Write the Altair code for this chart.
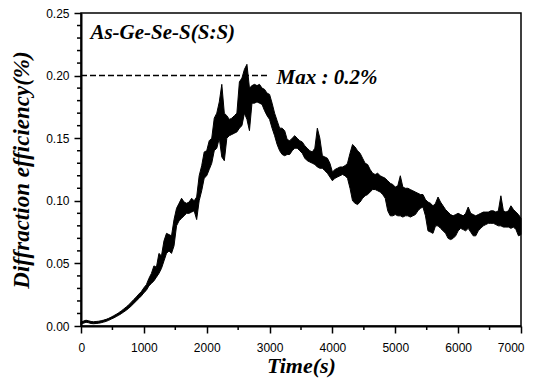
import altair as alt
import pandas as pd

# Noisy diffraction-efficiency trace (%), read from the picture as an upper / lower
# envelope sampled every 40 s from 0 s to 7000 s
step_s = 40
upper = [
    0.0030, 0.0040, 0.0046, 0.0042, 0.0036, 0.0034, 0.0036, 0.0038, 0.0042, 0.0047,
    0.0053, 0.0061, 0.0071, 0.0082, 0.0093, 0.0106, 0.0120, 0.0136, 0.0152, 0.0170,
    0.0190, 0.0212, 0.0232, 0.0255, 0.0275, 0.0305, 0.0330, 0.0380, 0.0420, 0.0480,
    0.0470, 0.0580, 0.0560, 0.0680, 0.0740, 0.0730, 0.0720, 0.0850, 0.0940, 0.0980,
    0.1020, 0.0990, 0.0980, 0.0990, 0.1020, 0.1000, 0.1030, 0.1200, 0.1280, 0.1390,
    0.1400, 0.1480, 0.1500, 0.1660, 0.1700, 0.1790, 0.1930, 0.1700, 0.1680, 0.1650,
    0.1660, 0.1680, 0.1700, 0.1950, 0.1980, 0.2050, 0.2090, 0.1900, 0.1920, 0.1930,
    0.1920, 0.1930, 0.1900, 0.1890, 0.1860, 0.1850, 0.1780, 0.1700, 0.1640, 0.1580,
    0.1580, 0.1560, 0.1490, 0.1480, 0.1500, 0.1520, 0.1500, 0.1480, 0.1470, 0.1440,
    0.1420, 0.1400, 0.1390, 0.1420, 0.1580, 0.1500, 0.1360, 0.1350, 0.1340, 0.1300,
    0.1230, 0.1250, 0.1260, 0.1270, 0.1270, 0.1280, 0.1300, 0.1380, 0.1450, 0.1430,
    0.1400, 0.1380, 0.1340, 0.1300, 0.1290, 0.1250, 0.1220, 0.1210, 0.1220, 0.1200,
    0.1190, 0.1180, 0.1160, 0.1140, 0.1130, 0.1110, 0.1120, 0.1200, 0.1110, 0.1100,
    0.1100, 0.1090, 0.1080, 0.1070, 0.1060, 0.1050, 0.1050, 0.1010, 0.0990, 0.0980,
    0.0960, 0.0980, 0.1030, 0.0990, 0.0960, 0.0930, 0.0910, 0.0890, 0.0880, 0.0890,
    0.0900, 0.0890, 0.0880, 0.0900, 0.0950, 0.0900, 0.0890, 0.0880, 0.0890, 0.0900,
    0.0910, 0.0910, 0.0910, 0.0920, 0.0920, 0.0910, 0.0920, 0.1040, 0.0920, 0.0910,
    0.0920, 0.0960, 0.0930, 0.0910, 0.0890, 0.0860,
]
lower = [
    0.0012, 0.0022, 0.0030, 0.0026, 0.0020, 0.0018, 0.0020, 0.0022, 0.0026, 0.0031,
    0.0037, 0.0045, 0.0055, 0.0064, 0.0075, 0.0086, 0.0098, 0.0112, 0.0126, 0.0142,
    0.0160, 0.0180, 0.0200, 0.0220, 0.0240, 0.0265, 0.0285, 0.0320, 0.0340, 0.0360,
    0.0390, 0.0420, 0.0460, 0.0520, 0.0580, 0.0600, 0.0580, 0.0640, 0.0800, 0.0840,
    0.0860, 0.0880, 0.0900, 0.0900, 0.0910, 0.0920, 0.0850, 0.1000, 0.1080, 0.1180,
    0.1200, 0.1250, 0.1300, 0.1400, 0.1420, 0.1500, 0.1350, 0.1320, 0.1500, 0.1520,
    0.1530, 0.1540, 0.1550, 0.1580, 0.1600, 0.1700, 0.1650, 0.1560, 0.1780, 0.1780,
    0.1790, 0.1780, 0.1770, 0.1720, 0.1680, 0.1650, 0.1580, 0.1520, 0.1450, 0.1400,
    0.1370, 0.1360, 0.1370, 0.1370, 0.1400, 0.1420, 0.1420, 0.1400, 0.1380, 0.1340,
    0.1320, 0.1310, 0.1300, 0.1290, 0.1270, 0.1260, 0.1260, 0.1240, 0.1220, 0.1190,
    0.1160, 0.1180, 0.1190, 0.1200, 0.1210, 0.1200, 0.1180, 0.1100, 0.1000, 0.0980,
    0.0970, 0.0990, 0.1020, 0.1040, 0.1050, 0.1070, 0.1090, 0.1090, 0.1080, 0.1070,
    0.1050, 0.1020, 0.0920, 0.0880, 0.0880, 0.0890, 0.0880, 0.0880, 0.0870, 0.0880,
    0.0880, 0.0870, 0.0880, 0.0890, 0.0920, 0.0940, 0.0950, 0.0880, 0.0760, 0.0750,
    0.0740, 0.0800, 0.0800, 0.0780, 0.0760, 0.0740, 0.0700, 0.0690, 0.0700, 0.0720,
    0.0760, 0.0780, 0.0770, 0.0760, 0.0780, 0.0750, 0.0720, 0.0720, 0.0760, 0.0780,
    0.0800, 0.0810, 0.0820, 0.0820, 0.0820, 0.0810, 0.0800, 0.0800, 0.0790, 0.0790,
    0.0790, 0.0780, 0.0790, 0.0770, 0.0720, 0.0730,
]
times = [i * step_s for i in range(len(upper))]

x_major = [0, 1000, 2000, 3000, 4000, 5000, 6000, 7000]
x_minor = [500, 1500, 2500, 3500, 4500, 5500, 6500]
y_major = [0.00, 0.05, 0.10, 0.15, 0.20, 0.25]
y_minor = [0.01, 0.02, 0.03, 0.04, 0.06, 0.07, 0.08, 0.09, 0.11, 0.12, 0.13, 0.14,
           0.16, 0.17, 0.18, 0.19, 0.21, 0.22, 0.23, 0.24]

max_value = 0.2
max_line_end = 3000
sample_label = "As-Ge-Se-S(S:S)"
max_label = "Max : 0.2%"
label_t = [150, 3110]
label_v = [0.229, 0.1935]

df = pd.DataFrame({"t": times, "hi": upper, "lo": lower})
rule_df = pd.DataFrame({"t": [0], "t2": [max_line_end], "v": [max_value]})
text_df = pd.DataFrame({"t": label_t, "v": label_v, "label": [sample_label, max_label]})
xminor_df = pd.DataFrame({"t": x_minor})
yminor_df = pd.DataFrame({"v": y_minor})

serif = "Liberation Serif"
sans = "Liberation Sans"
W, H = 440, 313

x_scale = alt.Scale(domain=[0, 7000], nice=False, zero=False)
y_scale = alt.Scale(domain=[0, 0.25], nice=False)

common_axis = dict(
    labelFont=sans, labelFontSize=12, labelColor="black",
    titleFont=serif, titleFontStyle="italic", titleFontWeight="bold", titleColor="black",
    domainColor="black", domainWidth=2, tickColor="black", tickWidth=1.5, tickSize=7,
    grid=False, labelOverlap=False,
)
x_axis = alt.Axis(title="Time(s)", values=x_major, format="d", labelPadding=9,
                  labelFlush=True, labelFlushOffset=3,
                  titleFontSize=22, titlePadding=2, **common_axis)
y_axis = alt.Axis(title="Diffraction efficiency(%)", values=y_major, format=".2f",
                  labelPadding=5, labelFlush=False,
                  titleFontSize=23, titlePadding=12, **common_axis)

band = alt.Chart(df).mark_area(
    fill="black", stroke="black", strokeWidth=1, strokeJoin="miter"
).encode(
    x=alt.X("t:Q", scale=x_scale, axis=x_axis),
    y=alt.Y("hi:Q", scale=y_scale, axis=y_axis),
    y2="lo:Q",
)

rule = alt.Chart(rule_df).mark_rule(color="black", strokeWidth=1.5, strokeDash=[6, 3]).encode(
    x="t:Q", x2="t2:Q", y="v:Q"
)

texts = alt.Chart(text_df).mark_text(
    font=serif, fontSize=21, fontStyle="italic", fontWeight="bold",
    align="left", baseline="alphabetic", color="black"
).encode(x="t:Q", y="v:Q", text="label:N")

x_minor_ticks = alt.Chart(xminor_df).mark_rule(color="black", strokeWidth=1.5).encode(
    x="t:Q", y=alt.value(H), y2=alt.value(H + 4)
)
y_minor_ticks = alt.Chart(yminor_df).mark_rule(color="black", strokeWidth=1.5).encode(
    y="v:Q", x=alt.value(-4), x2=alt.value(0)
)

chart = alt.layer(band, rule, texts, x_minor_ticks, y_minor_ticks).properties(
    width=W, height=H,
    autosize=alt.AutoSizeParams(type="none"),
    padding={"left": 73, "top": 5, "right": 4, "bottom": 52},
    background="white",
).configure_view(stroke="black", strokeWidth=1.5)

chart.save("out.html", embed_options={"renderer": "svg", "actions": False})
